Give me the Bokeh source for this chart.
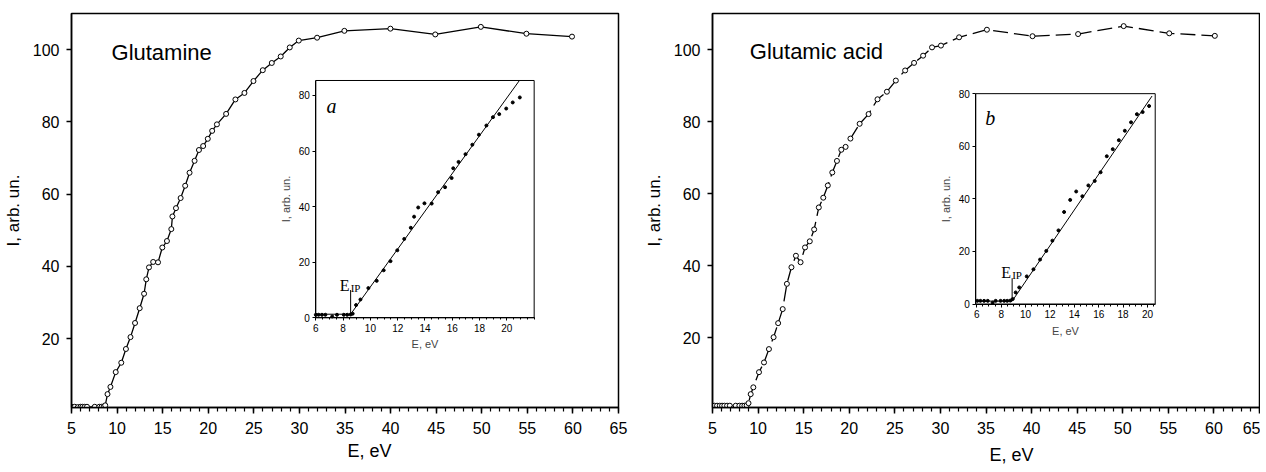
import numpy as np
from bokeh.plotting import figure
from bokeh.layouts import row
from bokeh.models import (Range1d, LinearAxis, FixedTicker, SingleIntervalTicker,
                          BoxAnnotation, Label, Title)
from bokeh.embed import file_html
from bokeh.resources import INLINE

# ---------------- data ----------------
gln_e = [5.0, 5.35, 5.7, 6.0, 6.2, 6.45, 6.7, 7.2, 7.55, 8.05, 8.3, 8.55, 8.7, 8.95, 9.27,
         9.85, 10.46, 10.97, 11.47, 11.97, 12.48, 12.96, 13.2, 13.5, 13.96, 14.49, 14.96,
         15.47, 15.95, 16.07, 16.46, 16.97, 17.47, 17.95, 18.5, 18.98, 19.44, 19.95, 20.43,
         20.95, 21.96, 22.98, 23.97, 24.96, 25.98, 26.97, 27.95, 28.94, 29.93, 31.94, 34.93,
         39.98, 44.9, 49.9, 54.9, 59.9]
gln_i = [1.1, 1.1, 1.0, 1.1, 1.1, 1.1, 1.1, 0.5, 1.1, 1.1, 1.1, 1.2, 1.5, 4.6, 6.6,
         10.7, 13.3, 17.1, 20.4, 24.3, 28.4, 32.4, 36.4, 39.7, 41.2, 41.1, 45.2,
         47.0, 50.3, 53.8, 56.1, 58.9, 62.3, 65.9, 69.2, 72.2, 73.3, 75.3, 77.5,
         79.3, 82.2, 86.2, 88.0, 91.3, 94.3, 96.3, 98.1, 100.6, 102.5, 103.3, 105.2,
         105.8, 104.2, 106.3, 104.4, 103.6]

glu_e = [5.0, 5.2, 5.5, 5.8, 6.05, 6.3, 6.6, 6.9, 7.3, 7.55, 7.95, 8.25, 8.5, 8.75, 8.95,
         9.19, 9.48, 10.1, 10.65, 11.19, 11.7, 12.2, 12.7, 13.16, 13.66, 14.15, 14.66,
         15.15, 15.67, 16.15, 16.66, 17.15, 17.65, 18.14, 18.65, 19.13, 19.6, 20.13, 21.14,
         22.12, 23.1, 24.13, 25.11, 26.13, 27.11, 28.1, 29.08, 30.06, 32.05, 35.1, 40.1,
         45.1, 50.1, 55.1, 60.1]
glu_i = [1.2, 1.2, 1.2, 1.2, 1.2, 1.2, 1.2, 1.2, 0.5, 1.2, 1.2, 1.2, 1.2, 1.3, 1.9,
         4.4, 6.3, 10.5, 13.2, 16.9, 20.2, 24.1, 28.0, 35.0, 39.6, 42.8, 41.0,
         45.1, 46.8, 50.1, 56.2, 58.9, 62.3, 65.9, 69.1, 72.2, 73.0, 75.3, 79.4,
         82.1, 86.2, 88.3, 91.4, 94.2, 96.3, 98.3, 100.6, 101.1, 103.4, 105.5, 103.7,
         104.3, 106.5, 104.5, 103.8]

# linear fits shown in the insets (threshold kink, then straight line)
fit_a_e = [6.0, 8.55, 20.92]
fit_a_i = [1.3, 1.3, 85.4]
fit_b_e = [6.0, 8.9, 20.37]
fit_b_i = [1.1, 1.1, 79.1]

eip_a = 8.55
eip_b = 8.9
eip_a_mark = [1.3, 10.0]
eip_b_mark = [1.1, 9.8]

# ticks
main_y_ticks = [20, 40, 60, 80, 100]
inset_y_ticks = [0, 20, 40, 60, 80]
inset_x_ticks = [6, 8, 10, 12, 14, 16, 18, 20]
inset_a_minor = list(np.arange(6.0, 22.01, 0.5))
inset_b_minor = list(np.arange(6.0, 20.51, 0.5))

SANS = "Liberation Sans"
SERIF = "Liberation Serif"


def sub_range(a0, a1, m0, m1, M0, M1):
    """Extra range so that [a0,a1] occupies the main-axis span [m0,m1]."""
    k = (a1 - a0) / (m1 - m0)
    return Range1d(a0 + (M0 - m0) * k, a0 + (M1 - m0) * k)


def make_panel(e, i, dash, title, title_xy, ybot, mleft, mright, xlab_offset, xlab_standoff,
               inset_xr, inset_yr, inset_box_main, emax_inset,
               fit_e, fit_i, eip, eip_mark, eip_lab_y, letter, letter_xy, inset_minor):
    XR = (5, 65)
    YR = (ybot, 110)
    p = figure(frame_width=547, frame_height=394, x_range=Range1d(*XR), y_range=Range1d(*YR),
               output_backend="svg", toolbar_location=None,
               min_border_left=mleft, min_border_right=mright, min_border_top=13,
               min_border_bottom=57)
    p.background_fill_color = "white"
    p.border_fill_color = "white"
    p.grid.visible = False
    p.outline_line_color = "black"
    p.outline_line_width = 1.5
    p.outline_line_alpha = 1.0

    xa = p.xaxis[0]
    xa.ticker = SingleIntervalTicker(interval=5, num_minor_ticks=5)
    ya = p.yaxis[0]
    ya.ticker = FixedTicker(ticks=main_y_ticks)
    ya.axis_label = "I, arb. un."
    for ax in (xa, ya):
        ax.axis_line_width = 1.5
        ax.axis_line_color = "black"
        ax.major_tick_in = 0
        ax.minor_tick_in = 0
        ax.major_tick_line_width = 1.5
        ax.major_label_text_font = SANS
        ax.major_label_text_font_size = "16px"
        ax.major_label_text_color = "black"
        ax.axis_label_text_font = SANS
        ax.axis_label_text_font_style = "normal"
        ax.axis_label_text_color = "black"
    xa.major_tick_out = 6
    xa.minor_tick_out = 4
    xa.minor_tick_line_width = 1.2
    xa.major_label_standoff = 8
    ya.major_tick_out = 5
    ya.major_label_standoff = 7
    ya.axis_label_standoff = 7
    ya.axis_label_text_font_size = "17px"

    # x axis label, placed as in the original (slightly right of centre)
    p.add_layout(Title(text="E, eV", align="left", offset=xlab_offset, standoff=xlab_standoff,
                       text_font=SANS, text_font_size="18px", text_font_style="normal",
                       text_color="black", vertical_align="top"), "below")

    # main curve
    p.line(e, i, line_color="black", line_width=1.3, line_dash=dash)
    p.scatter(e, i, marker="circle", size=5, fill_color="white", line_color="black",
              line_width=1)

    p.add_layout(Label(x=title_xy[0], y=title_xy[1], text=title, text_font=SANS,
                       text_font_size="22px", text_baseline="middle", text_align="left",
                       text_color="black"))

    # ---------- inset ----------
    bx0, bx1, by0, by1 = inset_box_main
    p.extra_x_ranges = {"ix": sub_range(inset_xr[0], inset_xr[1], bx0, bx1, XR[0], XR[1])}
    p.extra_y_ranges = {"iy": sub_range(inset_yr[0], inset_yr[1], by0, by1, YR[0], YR[1])}

    p.add_layout(BoxAnnotation(left=inset_xr[0], right=inset_xr[1], bottom=inset_yr[0],
                               top=inset_yr[1], x_range_name="ix", y_range_name="iy",
                               fill_alpha=0, line_color="black", line_width=1,
                               line_alpha=1, level="underlay"))

    ixa = LinearAxis(x_range_name="ix", y_range_name="iy", fixed_location=inset_yr[0],
                     bounds=inset_xr,
                     ticker=FixedTicker(ticks=inset_x_ticks, minor_ticks=inset_minor),
                     axis_label="E, eV")
    iya = LinearAxis(x_range_name="ix", y_range_name="iy", fixed_location=inset_xr[0],
                     bounds=inset_yr, ticker=FixedTicker(ticks=inset_y_ticks),
                     axis_label="I, arb. un.")
    for ax in (ixa, iya):
        ax.axis_line_width = 1
        ax.major_tick_in = 0
        ax.major_tick_out = 3
        ax.minor_tick_in = 0
        ax.minor_tick_out = 2
        ax.major_label_text_font = SANS
        ax.major_label_text_font_size = "10px"
        ax.major_label_text_color = "black"
        ax.major_label_standoff = 3
        ax.axis_label_text_font = SANS
        ax.axis_label_text_font_size = "11px"
        ax.axis_label_text_font_style = "normal"
        ax.axis_label_standoff = 3
    p.add_layout(ixa, "below")
    p.add_layout(iya, "left")

    ea = np.array(e)
    ia = np.array(i)
    m = (ea >= inset_xr[0]) & (ea <= emax_inset)
    p.line(fit_e, fit_i, line_color="black", line_width=1, x_range_name="ix", y_range_name="iy")
    p.scatter(ea[m], ia[m], marker="circle", size=3, fill_color="black", line_color="black",
              x_range_name="ix", y_range_name="iy")
    p.line([eip, eip], eip_mark, line_color="black", line_width=1,
           x_range_name="ix", y_range_name="iy")
    p.add_layout(Label(x=eip, y=eip_lab_y, text="E", text_font=SERIF, text_font_size="16px",
                       text_align="right", text_baseline="alphabetic", x_offset=-1,
                       x_range_name="ix", y_range_name="iy", text_color="black"))
    p.add_layout(Label(x=eip, y=eip_lab_y, text="IP", text_font=SERIF, text_font_size="11px",
                       text_align="left", text_baseline="alphabetic", y_offset=-2,
                       x_range_name="ix", y_range_name="iy", text_color="black"))
    p.add_layout(Label(x=letter_xy[0], y=letter_xy[1], text=letter, text_font=SERIF,
                       text_font_size="20px", text_font_style="italic", text_align="left",
                       text_baseline="alphabetic", x_range_name="ix", y_range_name="iy",
                       text_color="black"))
    return p


p1 = make_panel(gln_e, gln_i, "solid", "Glutamine", (9.39, 99.3), 0.9, 65, 23, 276, 8,
                (6.0, 22.0), (0.0, 85.4), (31.80, 55.75, 25.73, 91.45), 21.2,
                fit_a_e, fit_a_i, eip_a, eip_a_mark, 11.6, "a", (6.79, 76.4), inset_a_minor)
p2 = make_panel(glu_e, glu_i, "15 6", "Glutamic acid", (9.09, 99.5), 0.7, 67, 1, 277, 16,
                (5.92, 20.63), (0.0, 80.0), (33.88, 53.56, 29.41, 87.76), 20.3,
                fit_b_e, fit_b_i, eip_b, eip_b_mark, 11.9, "b", (6.69, 70.7), inset_b_minor)

layout = row(p1, p2)
open("out.html", "w").write(file_html(layout, INLINE))
